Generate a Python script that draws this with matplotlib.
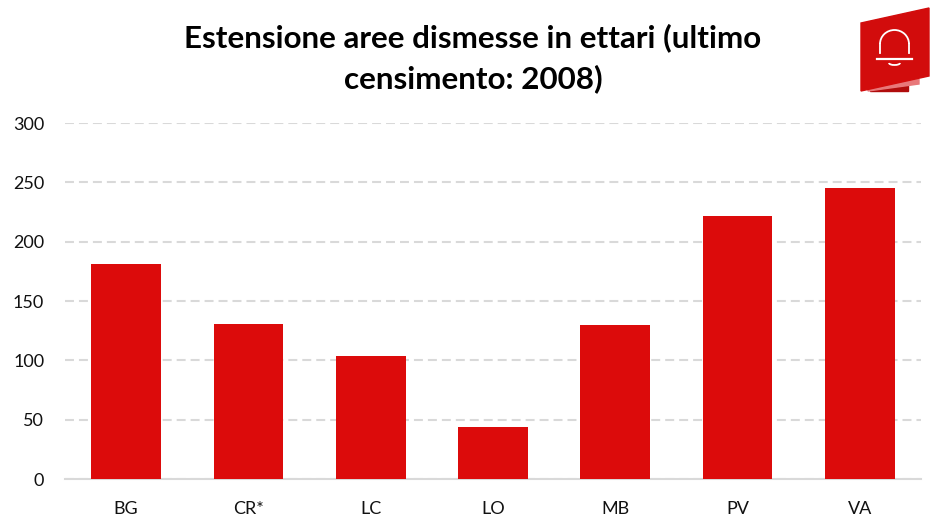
import matplotlib
matplotlib.use("Agg")
import matplotlib.pyplot as plt
from matplotlib.patches import Polygon, Arc

# data
labels = ['BG', 'CR*', 'LC', 'LO', 'MB', 'PV', 'VA']
values = [181, 131, 104, 44, 130, 222, 245]
yticks = [0, 50, 100, 150, 200, 250, 300]

plt.rcParams['font.family'] = ['Lato', 'DejaVu Sans']

fig = plt.figure(figsize=(9.45, 5.31), dpi=100)
ax = fig.add_axes([65/945, (531-479)/531, (921-65)/945, (479-123)/531])

ax.bar(range(len(labels)), values, width=0.57, color='#DC0B0B', zorder=3)
ax.set_xlim(-0.5, 6.5)
ax.set_ylim(0, 300)
ax.set_xticks(range(len(labels)))
ax.set_xticklabels(labels, fontsize=13, color='#111111')
ax.set_yticks(yticks)
ax.tick_params(axis='y', length=0, labelsize=13, labelcolor='#111111', pad=15)
ax.tick_params(axis='x', length=0, pad=16)
ax.grid(axis='y', color='#D9D9D9', linestyle=(0, (4.3, 2.4)), linewidth=1.5, zorder=0)
for s in ['top', 'right', 'left']:
    ax.spines[s].set_visible(False)
ax.spines['bottom'].set_color('#D9D9D9')
ax.spines['bottom'].set_linewidth(1.5)

fig.text(473/945, 1-38/531, 'Estensione aree dismesse in ettari (ultimo', ha='center', va='center',
         fontsize=22.6, fontweight='bold', color='black')
fig.text(473/945, 1-79/531, 'censimento: 2008)', ha='center', va='center',
         fontsize=22.6, fontweight='bold', color='black')

# logo
logo = fig.add_axes([0, 0, 1, 1], facecolor='none')
logo.set_xlim(0, 945)
logo.set_ylim(531, 0)
logo.axis('off')
logo.add_patch(Polygon([[870, 81], [908, 81], [908, 91], [870, 91]], color='#B00C0C'))
logo.add_patch(Polygon([[868, 88], [919, 79], [919, 84], [868, 91]], color='#E8787A'))
logo.add_patch(Polygon([[861, 23], [929, 8], [929, 76], [861, 91]], color='#D20C0C'))
logo.add_patch(Arc((894.5, 44), 29, 28, theta1=180, theta2=360, color='white', lw=1.3))
logo.plot([880, 880], [44, 53], color='white', lw=1.3)
logo.plot([909, 909], [44, 53], color='white', lw=1.3)
logo.plot([877, 912], [59, 59], color='white', lw=1.6)
logo.add_patch(Arc((894.5, 63), 11, 4, theta1=0, theta2=180, color='white', lw=1.3))

fig.savefig('out.png', dpi=100)
